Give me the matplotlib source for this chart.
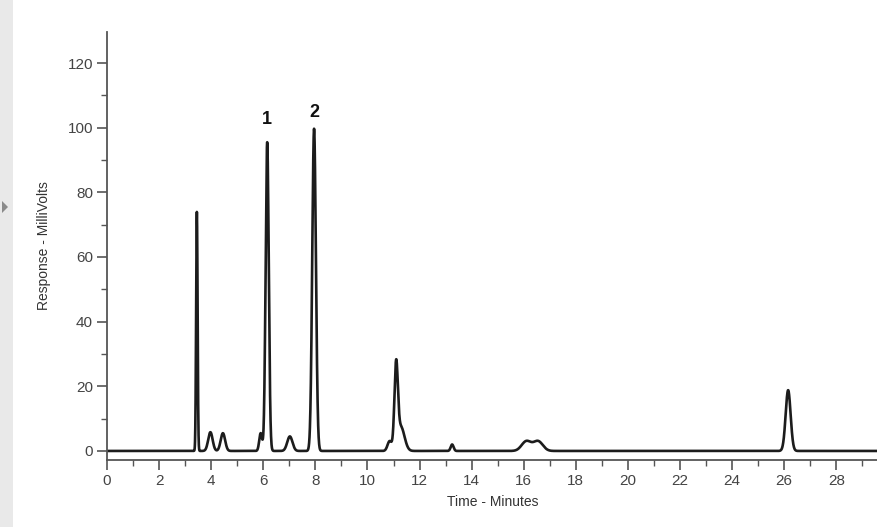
import numpy as np
import matplotlib
matplotlib.use("Agg")
import matplotlib.pyplot as plt
from matplotlib.ticker import MultipleLocator
from matplotlib.patches import Rectangle, Polygon

plt.rcParams['font.family'] = ['Liberation Sans', 'DejaVu Sans']

# Peak table (retention time, height mV, width sigma min)
peak_times = [3.45, 3.97, 4.45, 5.90, 6.15, 7.02, 7.95, 10.85, 11.10, 11.28, 13.25, 16.10, 16.55, 26.15]
peak_heights = [74.0, 5.8, 5.5, 5.5, 95.5, 4.5, 99.7, 3.0, 25.0, 7.5, 2.0, 3.0, 3.0, 18.8]
peak_sigmas = [0.028, 0.085, 0.085, 0.055, 0.06, 0.1, 0.07, 0.08, 0.065, 0.14, 0.055, 0.18, 0.18, 0.095]

labels = ["1", "2"]
label_times = [6.15, 7.95]
label_values = [100.0, 102.0]

x_ticks = list(range(0, 30, 2))

fig = plt.figure(figsize=(8.78, 5.27), dpi=100)
fig.patch.set_facecolor('white')
# grey side panel with arrow
fig.patches.append(Rectangle((0, 0), 13/878, 1, transform=fig.transFigure,
                             facecolor='#e9e9e9', edgecolor='none', zorder=0))
ay = 1 - 207/527
fig.patches.append(Polygon([(2/878, ay + 6/527), (8/878, ay), (2/878, ay - 6/527)],
                           closed=True, transform=fig.transFigure,
                           facecolor='#8a8a8a', edgecolor='none', zorder=1))

ax = fig.add_axes([107/878, 1 - 460/527, 771/878, 428/527])

t = np.linspace(0, 29.6, 8000)
y = np.zeros_like(t)
for tc, h, s in zip(peak_times, peak_heights, peak_sigmas):
    y += h * np.exp(-0.5 * ((t - tc) / s) ** 2)

ax.plot(t, y, color='#1c1c1c', lw=1.9, solid_joinstyle='round')

for lab, lt, lv in zip(labels, label_times, label_values):
    ax.text(lt, lv, lab, ha='center', va='bottom', fontsize=13, fontweight='bold', color='#111111')

ax.set_xlim(0, 29.6)
ax.set_ylim(-2.8, 129.6)
ax.set_xticks(x_ticks)
ax.xaxis.set_minor_locator(MultipleLocator(1))
ax.yaxis.set_major_locator(MultipleLocator(20))
ax.yaxis.set_minor_locator(MultipleLocator(10))
ax.set_yticks(range(0, 121, 20))

for side in ['top', 'right']:
    ax.spines[side].set_visible(False)
for side in ['left', 'bottom']:
    ax.spines[side].set_color('#555555')
    ax.spines[side].set_linewidth(1.3)

ax.tick_params(axis='both', which='major', length=7, width=1.2, color='#555555',
               labelsize=11, labelcolor='#444444', pad=3)
ax.tick_params(axis='both', which='minor', length=4, width=1.0, color='#555555')

ax.set_xlabel('Time - Minutes', fontsize=10, color='#333333', labelpad=5)
ax.set_ylabel('Response - MilliVolts', fontsize=10, color='#333333', labelpad=12)

fig.savefig('out.png', dpi=100)
